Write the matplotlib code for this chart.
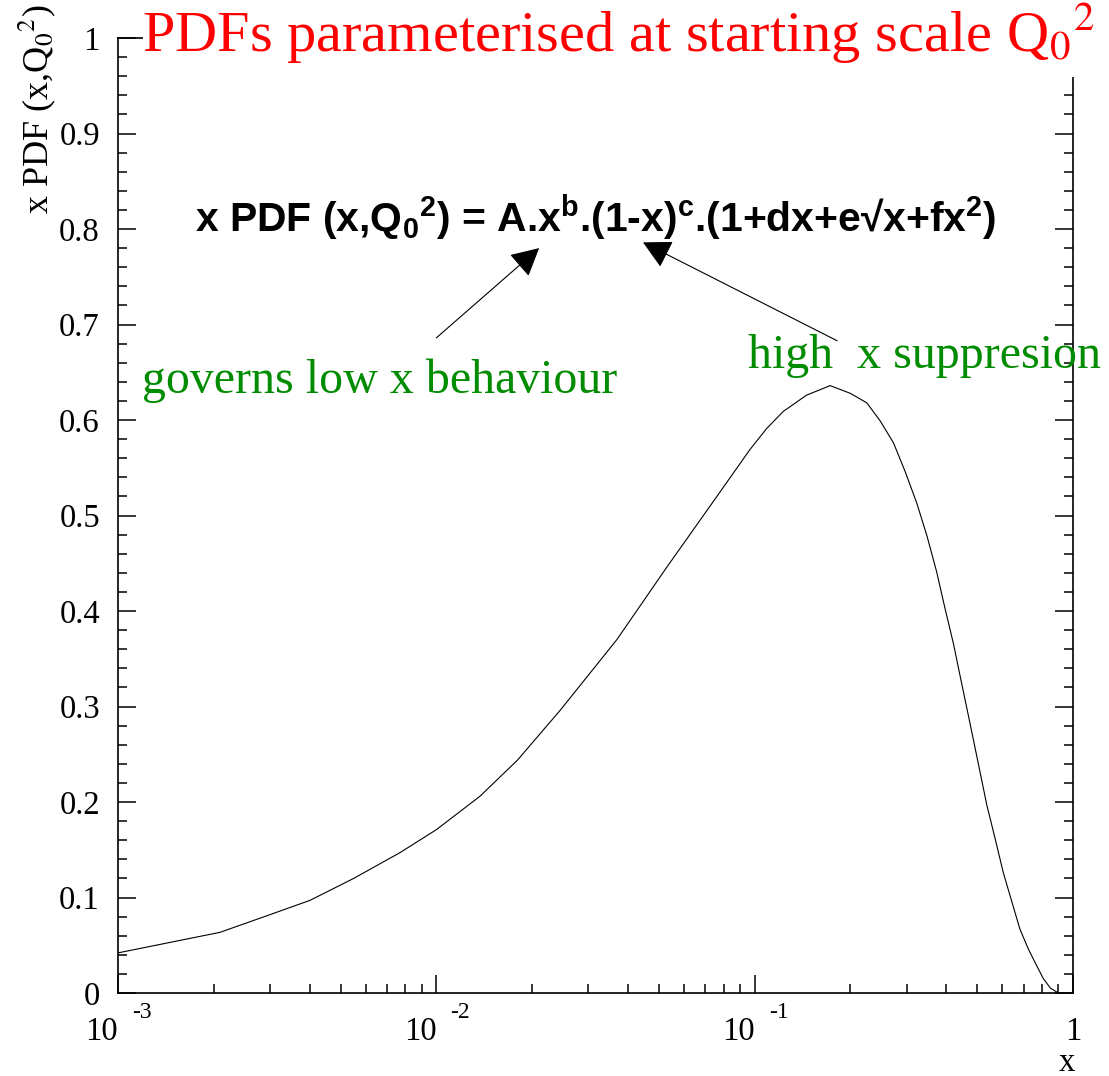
import numpy as np
import matplotlib
matplotlib.use('Agg')
import matplotlib.pyplot as plt
from matplotlib.patches import Rectangle
from matplotlib.ticker import MultipleLocator, LogLocator, NullFormatter

# curve (x, x*PDF)
x_vals = [0.001, 0.00209, 0.003, 0.00401, 0.0055, 0.00769, 0.01, 0.01371, 0.018,
          0.02449, 0.0369, 0.053, 0.0761, 0.0966, 0.109, 0.123, 0.1455, 0.1726,
          0.1995, 0.225, 0.248, 0.273, 0.297, 0.323, 0.3475, 0.373, 0.396,
          0.421, 0.447, 0.475, 0.505, 0.536, 0.569, 0.604, 0.681, 0.724,
          0.768, 0.807, 0.85, 0.9]
y_vals = [0.042, 0.0635, 0.082, 0.097, 0.120, 0.147, 0.171, 0.206, 0.244,
          0.296, 0.370, 0.446, 0.520, 0.569, 0.591, 0.609, 0.626, 0.636,
          0.628, 0.618, 0.599, 0.576, 0.546, 0.513, 0.479, 0.441, 0.403,
          0.366, 0.324, 0.282, 0.239, 0.197, 0.162, 0.126, 0.067, 0.046,
          0.029, 0.015, 0.005, 0.0]

y_ticks = [0, 0.1, 0.2, 0.3, 0.4, 0.5, 0.6, 0.7, 0.8, 0.9, 1]
y_labels = ['0', '0.1', '0.2', '0.3', '0.4', '0.5', '0.6', '0.7', '0.8', '0.9', '1']
x_decades = [-3, -2, -1]

title = 'PDFs parameterised at starting scale Q$_0$$^2$'
ylab = 'x PDF (x,Q$_0$$^2$)'
formula = 'x PDF (x,Q$_0$$^2$) = A.x$^b$.(1-x)$^c$.(1+dx+e\u221ax+fx$^2$)'
txt_low = 'governs low x behaviour'
txt_high = 'high  x suppresion'

plt.rcParams['font.family'] = 'Liberation Serif'
plt.rcParams['mathtext.fontset'] = 'custom'
plt.rcParams['mathtext.rm'] = 'Liberation Sans:bold'
plt.rcParams['mathtext.it'] = 'Liberation Sans:bold'
plt.rcParams['mathtext.bf'] = 'Liberation Sans:bold'

W, H = 1109, 1076
fig = plt.figure(figsize=(W / 100, H / 100), dpi=100)
ax = fig.add_axes([118 / W, 83 / H, 955 / W, 955 / H])

ax.plot(x_vals, y_vals, color='black', lw=0.8)
ax.set_xscale('log')
ax.set_xlim(1e-3, 1)
ax.set_ylim(0, 1)

for s in ax.spines.values():
    s.set_linewidth(1.2)

ax.set_yticks(y_ticks)
ax.set_yticklabels(y_labels, fontsize=23.5)
ax.yaxis.set_minor_locator(MultipleLocator(0.02))
ax.xaxis.set_major_locator(LogLocator(base=10, numticks=10))
ax.xaxis.set_minor_locator(LogLocator(base=10, subs=np.arange(2, 10), numticks=10))
ax.xaxis.set_major_formatter(NullFormatter())
ax.xaxis.set_minor_formatter(NullFormatter())
ax.tick_params(which='both', direction='in', top=False, right=True, width=1.1)
ax.tick_params(which='major', length=13)
ax.tick_params(which='minor', length=6.5)
ax.tick_params(axis='y', which='major', pad=13)

# ROOT-style x tick labels: "10" with a raised exponent
xt = ax.get_xaxis_transform()
for e in x_decades:
    ax.text(10.0 ** e, -0.0492, '10', transform=xt, ha='right', va='baseline',
            fontsize=23.5)
    ax.text(10.0 ** e * 1.107, -0.0262, str(e), transform=xt, ha='left',
            va='baseline', fontsize=17)
ax.text(1.0, -0.0492, '1', transform=xt, ha='center', va='baseline', fontsize=23.5)

fig.text(1075 / W, 1 - 1071 / H, 'x', ha='right', va='baseline', fontsize=23.5)
fig.text(37 / W, 1 - 4 / H, ylab, rotation=90, ha='center', va='top',
         fontsize=26, math_fontfamily='stix')

# title pave hides the top of the frame
fig.patches.append(Rectangle((143 / W, 1 - 77 / H), 1 - 143 / W, 77 / H,
                             transform=fig.transFigure, facecolor='white',
                             edgecolor='none', zorder=5))
fig.text(142 / W, 1 - 52 / H, title, color='red', fontsize=42, ha='left',
         va='baseline', math_fontfamily='stix', zorder=6)

ax.text(0.001745, 0.797, formula, fontsize=29.4, family='Liberation Sans',
        weight='bold', ha='left', va='baseline', math_fontfamily='custom')

green = '#008c00'
ax.text(0.00119, 0.628, txt_low, color=green, fontsize=34.5, ha='left', va='baseline')
ax.text(0.0953, 0.654, txt_high, color=green, fontsize=34.5, ha='left', va='baseline')

arrow = dict(arrowstyle='-|>,head_length=0.8,head_width=0.42', color='black',
             lw=0.8, shrinkA=0, shrinkB=0, mutation_scale=22)
ax.annotate('', xy=(0.02104, 0.780), xytext=(0.01, 0.686), arrowprops=arrow)
ax.annotate('', xy=(0.0446, 0.786), xytext=(0.1815, 0.683), arrowprops=arrow)

fig.savefig('out.png', dpi=100)
